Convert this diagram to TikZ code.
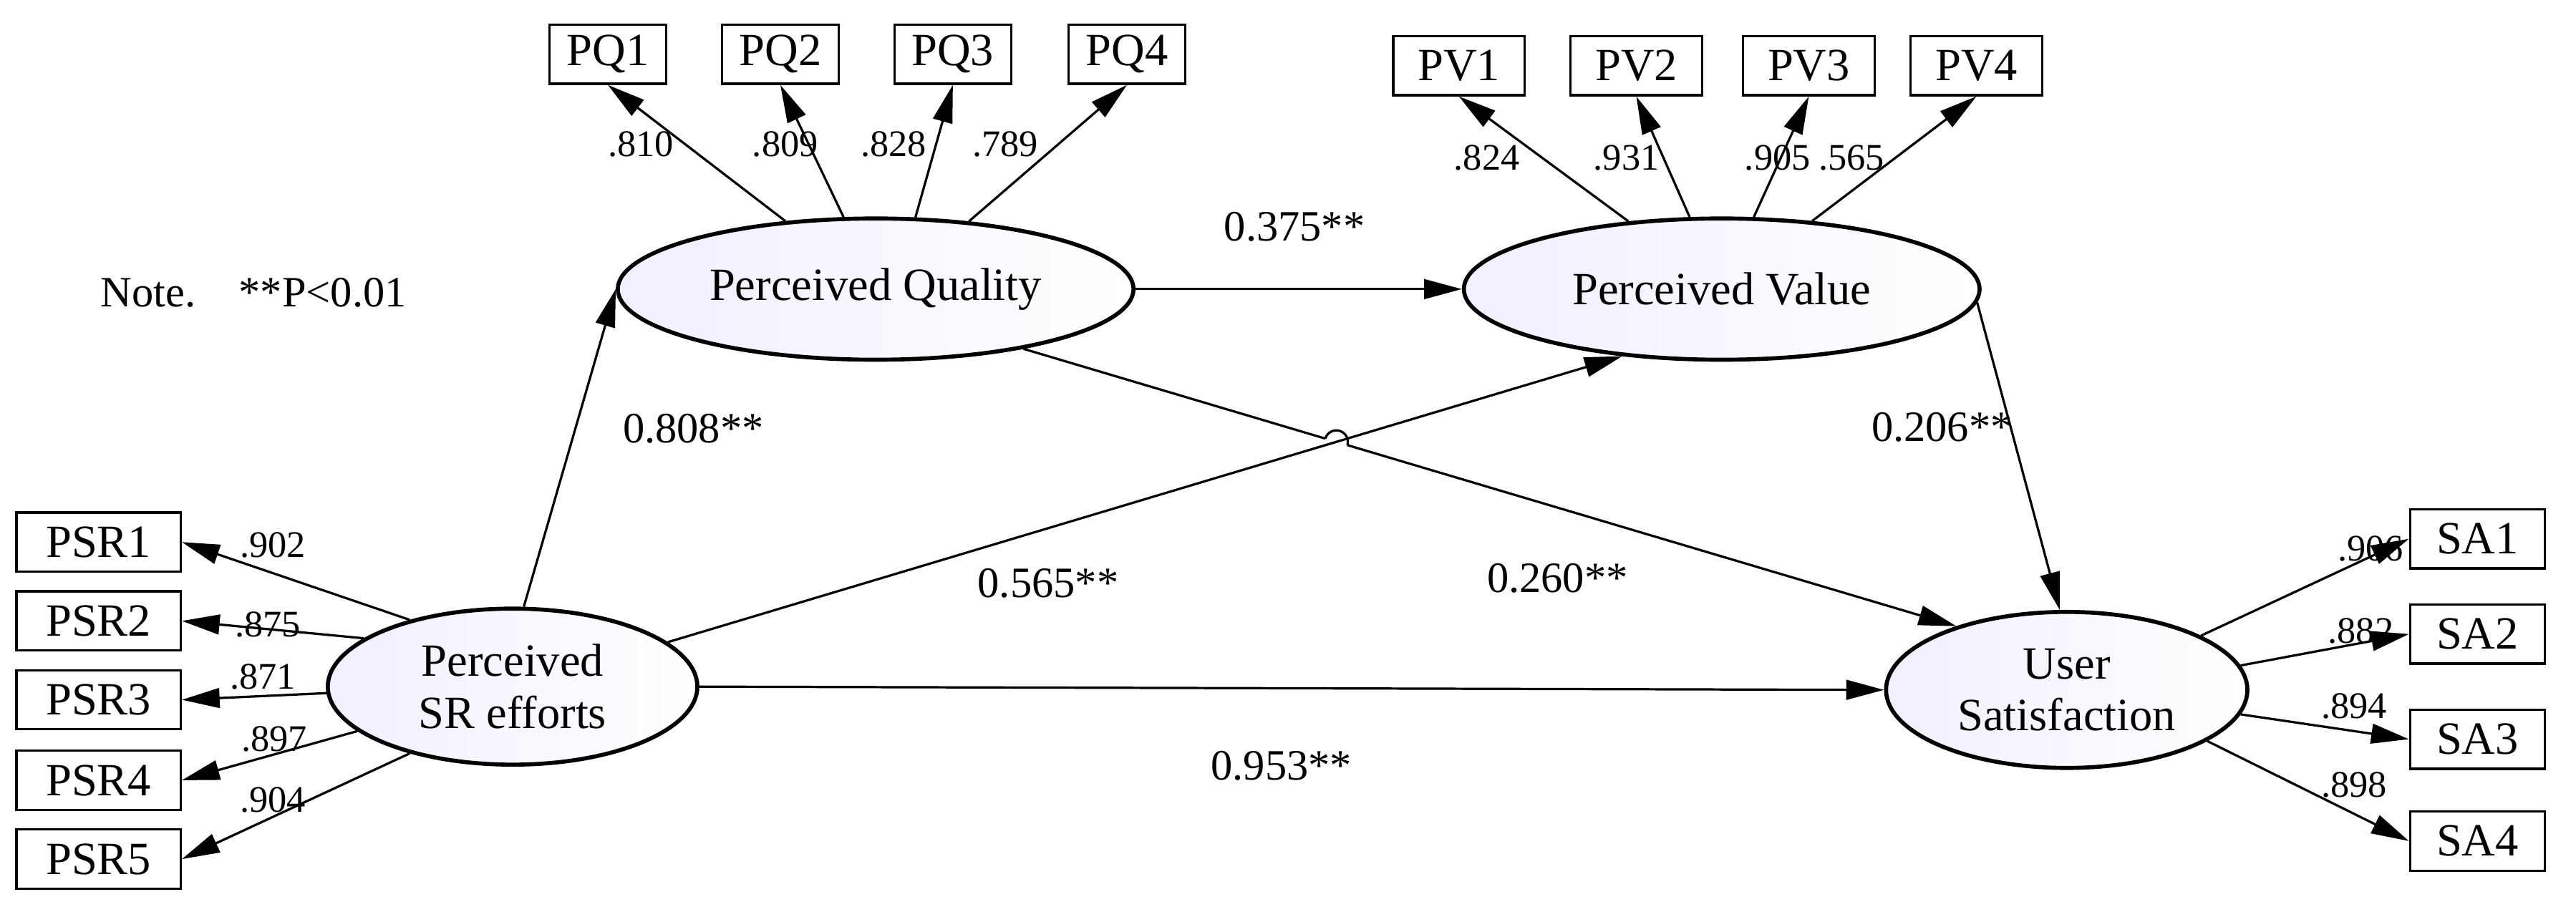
\documentclass[tikz,border=0pt]{standalone}
\usepackage{fontspec}
\setmainfont{Liberation Serif}
\newfontfamily\tms{Liberation Serif}
\usetikzlibrary{arrows.meta,shapes.geometric,intersections,calc}
\begin{document}
\begin{tikzpicture}[x=0.02cm,y=-0.02cm,
  every node/.style={font=\tms},
  box/.style={draw,line width=0.8pt,minimum height=0.72cm,inner sep=1pt,font=\tms\fontsize{16}{16}\selectfont},
  lat/.style={draw,ellipse,line width=1.4pt,minimum width=6.28cm,minimum height=1.72cm,left color=blue!6!white,right color=white,font=\tms\fontsize{16}{18}\selectfont,align=center},
  arr/.style={line width=0.8pt,-{Triangle[length=0.46cm,width=0.24cm]}},
  ld/.style={font=\tms\fontsize{13}{13}\selectfont},
  pl/.style={font=\tms\fontsize{15}{15}\selectfont}]
\useasboundingbox (0,0) rectangle (1568,555);
% boxes
\foreach \n/\x in {1/370,2/475,3/580,4/686}{\node[box,minimum width=1.42cm] (PQ\n) at (\x,33) {PQ\n};}
\foreach \n/\x in {1/888,2/996,3/1101,4/1203}{\node[box,minimum width=1.6cm] (PV\n) at (\x,40) {PV\n};}
\foreach \n/\y in {1/330,2/378,3/426,4/475,5/523}{\node[box,minimum width=2cm] (PSR\n) at (60,\y) {PSR\n};}
\foreach \n/\y in {1/328,2/386,3/450,4/512}{\node[box,minimum width=1.64cm] (SA\n) at (1508,\y) {SA\n};}
% latent
\node[lat] (PQ) at (533,176) {Perceived Quality};
\node[lat] (PV) at (1048,176) {Perceived Value};
\node[lat,minimum width=4.5cm,minimum height=1.9cm] (SR) at (312,418) {Perceived\\SR efforts};
\node[lat,minimum width=4.4cm,minimum height=1.9cm] (US) at (1258,420) {User\\Satisfaction};
\node[pl,anchor=west] (note) at (55,178) {Note.\quad **P<0.01};
% loadings
\draw[arr] (PQ.143) -- (PQ1.south);
\draw[arr] (PQ.114) -- (PQ2.south);
\draw[arr] (PQ.61) -- (PQ3.south);
\draw[arr] (PQ.36) -- (PQ4.south);
\draw[arr] (PV.144) -- (PV1.south);
\draw[arr] (PV.114) -- (PV2.south);
\draw[arr] (PV.66) -- (PV3.south);
\draw[arr] (PV.37) -- (PV4.south);
\draw[arr] (SR.147) -- (PSR1.east);
\draw[arr] (SR.162) -- (PSR2.east);
\draw[arr] (SR.182) -- (PSR3.east);
\draw[arr] (SR.196) -- (PSR4.east);
\draw[arr] (SR.213) -- (PSR5.east);
\draw[arr] (US.22) -- (SA1.west);
\draw[arr] (US.8) -- (SA2.west);
\draw[arr] (US.-8) -- (SA3.west);
\draw[arr] (US.-20) -- (SA4.west);
\foreach \t/\x/\y in {.810/390/88,.809/478/88,.828/544/88,.789/612/88,.824/905/96,.931/990/96,.905/1082/96,.565/1127/96,
 .902/166/332,.875/163/380,.871/160/412,.897/167/450,.904/166/487,.906/1443/334,.882/1437/384,.894/1433/430,.898/1433/478}
 {\node[ld] at (\x,\y) {\t};}
% structural
\draw[arr] (SR.82) -- (PQ.west);
\draw[arr,name path=l2] (SR.16) -- (PV.214);
\draw[arr] (SR.east) -- (US.west);
\draw[arr] (PQ.east) -- (PV.west);
\draw[arr] (PV.-3) -- (US.95);
\path[name path=l1] (PQ.-22) -- (US.150);
\path[name intersections={of=l1 and l2,by=X}];
\draw[line width=0.8pt] (PQ.-22) -- ($(X)!0.14cm!(PQ.-22)$);
\draw[arr] ($(X)!0.14cm!(US.150)$) -- (US.150);
\begin{scope}[shift={(X)}]
\draw[line width=0.8pt] let \p1=($(US.150)-(PQ.-22)$), \n1={atan2(\y1,\x1)} in
  ($(0,0)+(\n1+180:0.14cm)$) arc[start angle=\n1+180,end angle=\n1,radius=0.14cm];
\end{scope}
\foreach \t/\x/\y in {0.808**/422/261,0.565**/638/355,0.953**/780/466,0.375**/788/138,0.260**/948/352,0.206**/1182/260}
 {\node[pl] at (\x,\y) {\t};}
\end{tikzpicture}
\end{document}
